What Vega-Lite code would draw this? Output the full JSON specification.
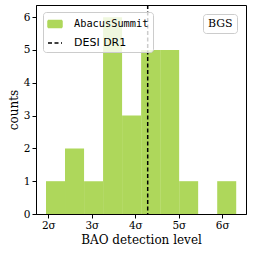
{
  "$schema": "https://vega.github.io/schema/vega-lite/v6.json",
  "width": 210,
  "height": 209,
  "autosize": {"type": "none"},
  "padding": {"left": 36, "top": 5, "right": 7, "bottom": 43},
  "config": {
    "view": {"stroke": "black", "strokeWidth": 1},
    "axis": {
      "domainColor": "black", "tickColor": "black", "labelColor": "black", "titleColor": "black",
      "labelFont": "DejaVu Serif", "titleFont": "DejaVu Serif", "labelFontSize": 10.5, "titleFontSize": 12,
      "titleFontWeight": "normal", "tickSize": 4, "labelPadding": 2, "grid": false, "domainWidth": 1, "tickWidth": 1
    }
  },
  "layer": [
    {
      "data": {"values": [
        {"bin_start": 1.947, "bin_end": 2.384, "count": 1, "series": "AbacusSummit"},
        {"bin_start": 2.384, "bin_end": 2.822, "count": 2, "series": "AbacusSummit"},
        {"bin_start": 2.822, "bin_end": 3.259, "count": 1, "series": "AbacusSummit"},
        {"bin_start": 3.259, "bin_end": 3.696, "count": 6, "series": "AbacusSummit"},
        {"bin_start": 3.696, "bin_end": 4.134, "count": 3, "series": "AbacusSummit"},
        {"bin_start": 4.134, "bin_end": 4.571, "count": 5, "series": "AbacusSummit"},
        {"bin_start": 4.571, "bin_end": 5.008, "count": 5, "series": "AbacusSummit"},
        {"bin_start": 5.008, "bin_end": 5.445, "count": 1, "series": "AbacusSummit"},
        {"bin_start": 5.445, "bin_end": 5.883, "count": 0, "series": "AbacusSummit"},
        {"bin_start": 5.883, "bin_end": 6.32, "count": 1, "series": "AbacusSummit"}
      ]},
      "mark": {"type": "rect"},
      "encoding": {
        "x": {"field": "bin_start", "type": "quantitative",
              "scale": {"domain": [1.717, 6.545], "nice": false, "zero": false},
              "axis": {"values": [2, 3, 4, 5, 6], "labelExpr": "datum.value + 'σ'", "title": "BAO detection level", "titlePadding": 4}},
        "x2": {"field": "bin_end"},
        "y": {"field": "count", "type": "quantitative",
              "scale": {"domain": [0, 6.37], "nice": false},
              "axis": {"values": [0, 1, 2, 3, 4, 5, 6], "title": "counts", "titlePadding": 3}},
        "y2": {"datum": 0},
        "color": {"field": "series", "type": "nominal",
          "scale": {"domain": ["AbacusSummit", "DESI DR1"], "range": ["#aed75b", "#000000"]},
          "legend": {
            "title": null, "orient": "top-left", "offset": 7, "padding": 4, "rowPadding": 4,
            "fillColor": "rgba(255,255,255,0.8)", "strokeColor": "#cccccc", "cornerRadius": 3,
            "symbolType": "stroke", "symbolSize": 196, "labelOffset": 11, "labelFontSize": 11,
            "labelColor": "black", "labelFont": "DejaVu Sans", "symbolStrokeWidth": 1.5,
            "encoding": {
              "labels": {
                "font": {"condition": {"test": "datum.value === 'AbacusSummit'", "value": "DejaVu Sans Mono"}, "value": "DejaVu Sans"},
                "fontSize": {"condition": {"test": "datum.value === 'AbacusSummit'", "value": 10.3}, "value": 11}
              },
              "symbols": {
                "shape": {"condition": {"test": "datum.value === 'AbacusSummit'", "value": "M-1,-0.5H1V0.5H-1Z"}, "value": "stroke"},
                "fill": {"condition": {"test": "datum.value === 'AbacusSummit'", "value": "#aed75b"}, "value": "transparent"},
                "stroke": {"condition": {"test": "datum.value === 'AbacusSummit'", "value": "transparent"}, "value": "black"},
                "strokeDash": {"condition": {"test": "datum.value === 'AbacusSummit'", "value": [1, 0]}, "value": [4, 2.5]},
                "strokeWidth": {"value": 1.5},
                "opacity": {"value": 1}
              }
            }
          }
        }
      }
    },
    {
      "data": {"values": [{"detection": 4.285, "series": "DESI DR1"}]},
      "mark": {"type": "rule", "strokeDash": [4, 2.5], "strokeWidth": 1.5},
      "encoding": {
        "x": {"field": "detection", "type": "quantitative"},
        "color": {"field": "series", "type": "nominal"}
      }
    },
    {
      "data": {"values": [{"panel": "BGS"}]},
      "mark": {"type": "point", "opacity": 0, "size": 0},
      "encoding": {
        "shape": {"field": "panel", "type": "nominal",
          "legend": {
            "title": null, "orient": "top-right", "offset": 9, "padding": 4,
            "fillColor": "rgba(255,255,255,0.8)", "strokeColor": "#cccccc", "cornerRadius": 3,
            "symbolSize": 0, "symbolOpacity": 0, "labelOffset": -10, "labelFontSize": 11,
            "labelColor": "black", "labelFont": "DejaVu Serif"
          }
        }
      }
    }
  ]
}
